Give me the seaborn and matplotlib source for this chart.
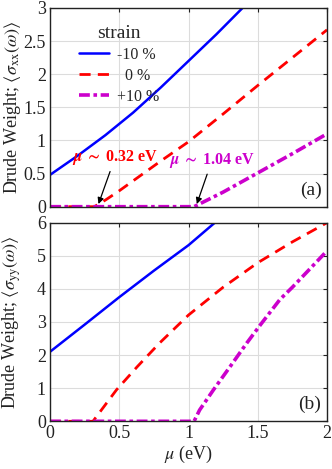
import matplotlib
matplotlib.use("Agg")
import matplotlib.pyplot as plt
import numpy as np
import pandas as pd
import seaborn as sns

# ---- data ----
# panel (a): <sigma_xx>
mu_a_m10 = [0.0, 0.2, 0.4, 0.6, 0.8, 1.0, 1.2, 1.39]
dw_a_m10 = [0.48, 0.77, 1.08, 1.42, 1.8, 2.2, 2.6, 3.0]
mu_a_0 = [0.0, 0.32, 0.4, 0.5, 0.6, 0.8, 1.0, 1.25, 1.5, 1.75, 2.0]
dw_a_0 = [0.0, 0.0, 0.1, 0.24, 0.39, 0.69, 0.98, 1.4, 1.83, 2.25, 2.67]
mu_a_p10 = [0.0, 1.04, 1.25, 1.5, 1.75, 2.0]
dw_a_p10 = [0.0, 0.0, 0.22, 0.51, 0.8, 1.1]

# panel (b): <sigma_yy>
mu_b_m10 = [0.0, 0.25, 0.5, 0.75, 1.0, 1.19]
dw_b_m10 = [2.1, 2.92, 3.75, 4.55, 5.32, 6.0]
mu_b_0 = [0.0, 0.31, 0.48, 0.63, 0.79, 1.0, 1.25, 1.5, 1.75, 2.0]
dw_b_0 = [0.0, 0.0, 0.95, 1.65, 2.36, 3.21, 4.05, 4.79, 5.42, 6.0]
mu_b_p10 = [0.0, 1.04, 1.08, 1.18, 1.3, 1.42, 1.52, 1.66, 1.75, 1.88, 2.0]
dw_b_p10 = [0.0, 0.0, 0.34, 0.95, 1.65, 2.36, 2.92, 3.68, 4.05, 4.62, 5.15]

strain_labels = ["-10 %", "  0 %", "+10 %"]
colors = ["#0000ff", "#ff0000", "#cc00cc"]

sns.set_style("whitegrid")
plt.rcParams["font.family"] = ["Liberation Serif", "DejaVu Serif"]
plt.rcParams["mathtext.fontset"] = "stix"

styles = [
    dict(lw=1.8, dashes=None),
    dict(lw=2.0, dashes=(4, 2.6)),
    dict(lw=2.6, dashes=(3.0, 1.0, 1.0, 1.0)),
]

fig = plt.figure(figsize=(3.32, 4.69), dpi=100)
ax1 = fig.add_axes([0.1506, 0.5593, 0.8344, 0.4237])
ax2 = fig.add_axes([0.1506, 0.1017, 0.8344, 0.4235])


def draw(ax, series):
    for (x, y), lab, c, st in zip(series, strain_labels, colors, styles):
        df = pd.DataFrame({"mu": x, "dw": y})
        sns.lineplot(data=df, x="mu", y="dw", ax=ax, color=c,
                     lw=st["lw"], label=lab, legend=False)
        if st["dashes"] is not None:
            ax.lines[-1].set_dashes(st["dashes"])
    ax.set_xlim(0, 2)
    ax.grid(True, color="#dcdcdc", lw=0.8)
    ax.tick_params(direction="in", top=True, right=True, length=3,
                   width=0.8, labelsize=13, pad=3, colors="#222222")
    for s in ax.spines.values():
        s.set_color("#222222")
        s.set_linewidth(1.0)


draw(ax1, [(mu_a_m10, dw_a_m10), (mu_a_0, dw_a_0), (mu_a_p10, dw_a_p10)])
draw(ax2, [(mu_b_m10, dw_b_m10), (mu_b_0, dw_b_0), (mu_b_p10, dw_b_p10)])

ax1.set_ylim(0, 3)
ax1.set_yticks([0, 0.5, 1, 1.5, 2, 2.5, 3])
ax1.set_yticklabels(["0", "0.5", "1", "1.5", "2", "2.5", "3"])
ax1.set_xticks([0, 0.5, 1, 1.5, 2])
ax1.set_xticklabels([])
ax1.set_xlabel("")
ax1.set_ylabel(r"Drude Weight; $\langle\sigma_{\rm xx}(\omega)\rangle$",
               fontsize=13, color="#222222")

ax2.set_ylim(0, 6)
ax2.set_yticks(range(0, 7))
ax2.set_xticks([0, 0.5, 1, 1.5, 2])
ax2.set_xticklabels(["0", "0.5", "1", "1.5", "2"])
ax2.set_xlabel(r"$\mu$ (eV)", fontsize=13, labelpad=1, color="#222222")
ax2.set_ylabel(r"Drude Weight; $\langle\sigma_{\rm yy}(\omega)\rangle$",
               fontsize=13, color="#222222")
for ax in (ax1, ax2):
    ax.yaxis.set_label_coords(-0.096, 0.5)

ax1.legend(title="strain", loc="upper left", frameon=False,
           bbox_to_anchor=(0.08, 0.945), fontsize=11.5, title_fontsize=14,
           handlelength=1.9, handletextpad=0.5, labelspacing=0.3,
           borderaxespad=0)

ann_kw = dict(ha="center", va="bottom", fontsize=11.5, fontweight="bold",
              arrowprops=dict(arrowstyle="-|>", color="black", lw=0.9,
                              shrinkA=1, shrinkB=0, mutation_scale=9))
ax1.annotate(r"$\boldsymbol{\mu}\ \boldsymbol{\sim}$ 0.32 eV", xy=(0.35, 0.04),
             xytext=(0.47, 0.6), color=colors[1], **ann_kw)
ax1.annotate(r"$\boldsymbol{\mu}\ \boldsymbol{\sim}$ 1.04 eV", xy=(1.06, 0.04),
             xytext=(1.17, 0.56), color=colors[2], **ann_kw)

ax1.text(1.96, 0.25, "(a)", ha="right", va="center", fontsize=14,
         color="#222222")
ax2.text(1.96, 0.5, "(b)", ha="right", va="center", fontsize=14,
         color="#222222")

fig.savefig("out.png", dpi=100)
